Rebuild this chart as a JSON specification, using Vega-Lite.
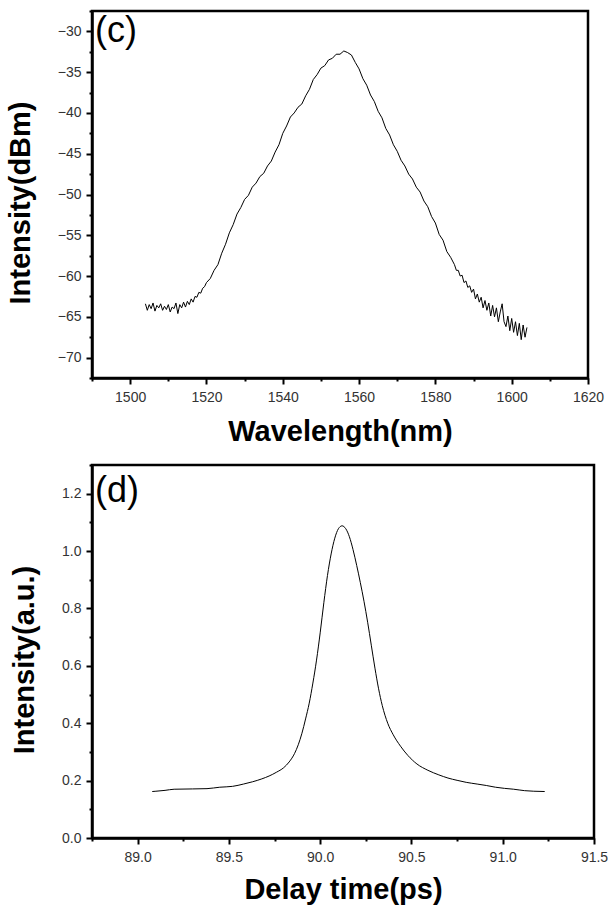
{
  "$schema": "https://vega.github.io/schema/vega-lite/v6.json",
  "background": "white",
  "padding": {"left": 5, "top": 2, "right": 5, "bottom": 2},
  "spacing": 8,
  "config": {
    "view": {"stroke": "black", "strokeWidth": 2.5},
    "axis": {
      "grid": false,
      "tickCount": 60,
      "domainColor": "black",
      "domainWidth": 2.5,
      "tickColor": "black",
      "tickWidth": 2,
      "labelFont": "Liberation Sans",
      "labelFontSize": 14,
      "labelColor": "#333333",
      "labelOverlap": false,
      "labelFlush": false,
      "titleFont": "Liberation Sans",
      "titleFontSize": 29,
      "titleFontWeight": "bold",
      "titleColor": "black"
    },
    "axisX": {"labelPadding": 6},
    "axisY": {"labelPadding": 5, "titlePadding": 22},
    "line": {"color": "black", "strokeWidth": 1}
  },
  "datasets": {
    "spectrum": [
      {"wavelength": 1504.0, "dbm": -63.4}, {"wavelength": 1504.5, "dbm": -64.2}, {"wavelength": 1505.0, "dbm": -63.5}, {"wavelength": 1505.5, "dbm": -64.0},
      {"wavelength": 1506.0, "dbm": -63.3}, {"wavelength": 1506.5, "dbm": -64.3}, {"wavelength": 1507.0, "dbm": -63.6}, {"wavelength": 1507.5, "dbm": -63.9},
      {"wavelength": 1508.0, "dbm": -63.4}, {"wavelength": 1508.5, "dbm": -64.2}, {"wavelength": 1509.0, "dbm": -63.7}, {"wavelength": 1509.5, "dbm": -64.1},
      {"wavelength": 1510.0, "dbm": -63.5}, {"wavelength": 1510.5, "dbm": -64.4}, {"wavelength": 1511.0, "dbm": -63.8}, {"wavelength": 1511.5, "dbm": -64.0},
      {"wavelength": 1512.0, "dbm": -63.3}, {"wavelength": 1512.5, "dbm": -64.6}, {"wavelength": 1513.0, "dbm": -63.5}, {"wavelength": 1513.5, "dbm": -63.9},
      {"wavelength": 1514.0, "dbm": -63.2}, {"wavelength": 1514.5, "dbm": -63.8}, {"wavelength": 1515.0, "dbm": -63.1}, {"wavelength": 1515.5, "dbm": -63.5},
      {"wavelength": 1516.0, "dbm": -62.8}, {"wavelength": 1516.5, "dbm": -63.2}, {"wavelength": 1517.0, "dbm": -62.5}, {"wavelength": 1517.5, "dbm": -62.6},
      {"wavelength": 1518.0, "dbm": -62.0}, {"wavelength": 1518.5, "dbm": -62.1}, {"wavelength": 1519.0, "dbm": -61.5}, {"wavelength": 1519.5, "dbm": -61.3},
      {"wavelength": 1520, "dbm": -60.8}, {"wavelength": 1521, "dbm": -60.3}, {"wavelength": 1522, "dbm": -59.3}, {"wavelength": 1523, "dbm": -58.6},
      {"wavelength": 1524, "dbm": -57.2}, {"wavelength": 1525, "dbm": -56.1}, {"wavelength": 1526, "dbm": -54.7}, {"wavelength": 1527, "dbm": -53.7},
      {"wavelength": 1528, "dbm": -52.4}, {"wavelength": 1529, "dbm": -51.6}, {"wavelength": 1530, "dbm": -50.6}, {"wavelength": 1531, "dbm": -50.1},
      {"wavelength": 1532, "dbm": -49.1}, {"wavelength": 1533, "dbm": -48.6}, {"wavelength": 1534, "dbm": -47.8}, {"wavelength": 1535, "dbm": -47.4},
      {"wavelength": 1536, "dbm": -46.5}, {"wavelength": 1537, "dbm": -45.9}, {"wavelength": 1538, "dbm": -44.8}, {"wavelength": 1539, "dbm": -43.9},
      {"wavelength": 1540, "dbm": -42.5}, {"wavelength": 1541, "dbm": -41.6}, {"wavelength": 1542, "dbm": -40.5}, {"wavelength": 1543, "dbm": -40.0},
      {"wavelength": 1544, "dbm": -39.3}, {"wavelength": 1545, "dbm": -38.9}, {"wavelength": 1546, "dbm": -37.9}, {"wavelength": 1547, "dbm": -37.1},
      {"wavelength": 1548, "dbm": -35.9}, {"wavelength": 1549, "dbm": -35.3}, {"wavelength": 1550, "dbm": -34.5}, {"wavelength": 1551, "dbm": -34.2},
      {"wavelength": 1552, "dbm": -33.5}, {"wavelength": 1553, "dbm": -33.3}, {"wavelength": 1554, "dbm": -32.8}, {"wavelength": 1555, "dbm": -32.8},
      {"wavelength": 1556, "dbm": -32.4}, {"wavelength": 1557, "dbm": -32.6}, {"wavelength": 1558, "dbm": -32.9}, {"wavelength": 1559, "dbm": -33.8},
      {"wavelength": 1560, "dbm": -34.6}, {"wavelength": 1561, "dbm": -35.8}, {"wavelength": 1562, "dbm": -36.6}, {"wavelength": 1563, "dbm": -37.8},
      {"wavelength": 1564, "dbm": -38.6}, {"wavelength": 1565, "dbm": -39.8}, {"wavelength": 1566, "dbm": -40.6}, {"wavelength": 1567, "dbm": -41.9},
      {"wavelength": 1568, "dbm": -42.7}, {"wavelength": 1569, "dbm": -43.9}, {"wavelength": 1570, "dbm": -44.7}, {"wavelength": 1571, "dbm": -45.8},
      {"wavelength": 1572, "dbm": -46.5}, {"wavelength": 1573, "dbm": -47.5}, {"wavelength": 1574, "dbm": -48.1}, {"wavelength": 1575, "dbm": -49.1},
      {"wavelength": 1576, "dbm": -49.7}, {"wavelength": 1577, "dbm": -50.8}, {"wavelength": 1578, "dbm": -51.5}, {"wavelength": 1579, "dbm": -52.7},
      {"wavelength": 1580, "dbm": -53.5}, {"wavelength": 1581, "dbm": -54.9}, {"wavelength": 1582, "dbm": -55.6}, {"wavelength": 1583, "dbm": -57.0},
      {"wavelength": 1584, "dbm": -57.7},
      {"wavelength": 1585.0, "dbm": -58.6}, {"wavelength": 1585.5, "dbm": -59.3}, {"wavelength": 1586.0, "dbm": -59.3}, {"wavelength": 1586.5, "dbm": -60.0},
      {"wavelength": 1587.0, "dbm": -59.9}, {"wavelength": 1587.5, "dbm": -60.8}, {"wavelength": 1588.0, "dbm": -60.6}, {"wavelength": 1588.5, "dbm": -61.4},
      {"wavelength": 1589.0, "dbm": -61.2}, {"wavelength": 1589.5, "dbm": -62.0}, {"wavelength": 1590.0, "dbm": -61.6}, {"wavelength": 1590.5, "dbm": -62.8},
      {"wavelength": 1591.0, "dbm": -62.2}, {"wavelength": 1591.5, "dbm": -63.2}, {"wavelength": 1592.0, "dbm": -62.6}, {"wavelength": 1592.5, "dbm": -63.9},
      {"wavelength": 1593.0, "dbm": -63.0}, {"wavelength": 1593.5, "dbm": -64.2}, {"wavelength": 1594.0, "dbm": -63.3}, {"wavelength": 1594.5, "dbm": -64.9},
      {"wavelength": 1595.0, "dbm": -63.6}, {"wavelength": 1595.5, "dbm": -65.0}, {"wavelength": 1596.0, "dbm": -63.9}, {"wavelength": 1596.5, "dbm": -65.6},
      {"wavelength": 1597.0, "dbm": -64.4}, {"wavelength": 1597.5, "dbm": -63.4}, {"wavelength": 1598.0, "dbm": -65.6}, {"wavelength": 1598.5, "dbm": -66.2},
      {"wavelength": 1599.0, "dbm": -64.9}, {"wavelength": 1599.5, "dbm": -66.7}, {"wavelength": 1600.0, "dbm": -65.2}, {"wavelength": 1600.5, "dbm": -66.9},
      {"wavelength": 1601.0, "dbm": -65.6}, {"wavelength": 1601.5, "dbm": -67.3}, {"wavelength": 1602.0, "dbm": -65.8}, {"wavelength": 1602.5, "dbm": -67.8},
      {"wavelength": 1603.0, "dbm": -66.0}, {"wavelength": 1603.5, "dbm": -67.5}, {"wavelength": 1604.0, "dbm": -66.3}
    ],
    "autocorrelation": [
      {"delay": 89.08, "intensity": 0.162}, {"delay": 89.10, "intensity": 0.163}, {"delay": 89.15, "intensity": 0.166}, {"delay": 89.20, "intensity": 0.170},
      {"delay": 89.30, "intensity": 0.171}, {"delay": 89.38, "intensity": 0.172}, {"delay": 89.45, "intensity": 0.177}, {"delay": 89.52, "intensity": 0.180},
      {"delay": 89.58, "intensity": 0.188}, {"delay": 89.63, "intensity": 0.196}, {"delay": 89.68, "intensity": 0.206}, {"delay": 89.72, "intensity": 0.216},
      {"delay": 89.76, "intensity": 0.229}, {"delay": 89.80, "intensity": 0.245}, {"delay": 89.83, "intensity": 0.265}, {"delay": 89.86, "intensity": 0.295},
      {"delay": 89.88, "intensity": 0.325}, {"delay": 89.90, "intensity": 0.365}, {"delay": 89.92, "intensity": 0.415}, {"delay": 89.94, "intensity": 0.470},
      {"delay": 89.96, "intensity": 0.540}, {"delay": 89.98, "intensity": 0.620}, {"delay": 90.00, "intensity": 0.715}, {"delay": 90.02, "intensity": 0.820},
      {"delay": 90.04, "intensity": 0.915}, {"delay": 90.06, "intensity": 0.990}, {"delay": 90.08, "intensity": 1.045}, {"delay": 90.10, "intensity": 1.078},
      {"delay": 90.12, "intensity": 1.088}, {"delay": 90.14, "intensity": 1.078}, {"delay": 90.16, "intensity": 1.050}, {"delay": 90.18, "intensity": 1.005},
      {"delay": 90.20, "intensity": 0.950}, {"delay": 90.22, "intensity": 0.890}, {"delay": 90.24, "intensity": 0.825}, {"delay": 90.26, "intensity": 0.752},
      {"delay": 90.28, "intensity": 0.672}, {"delay": 90.30, "intensity": 0.592}, {"delay": 90.32, "intensity": 0.520}, {"delay": 90.34, "intensity": 0.462},
      {"delay": 90.37, "intensity": 0.400}, {"delay": 90.40, "intensity": 0.360}, {"delay": 90.44, "intensity": 0.320}, {"delay": 90.48, "intensity": 0.288},
      {"delay": 90.53, "intensity": 0.258}, {"delay": 90.59, "intensity": 0.236}, {"delay": 90.65, "intensity": 0.220}, {"delay": 90.70, "intensity": 0.209},
      {"delay": 90.75, "intensity": 0.201}, {"delay": 90.80, "intensity": 0.194}, {"delay": 90.86, "intensity": 0.188}, {"delay": 90.91, "intensity": 0.183},
      {"delay": 90.96, "intensity": 0.177}, {"delay": 91.01, "intensity": 0.173}, {"delay": 91.06, "intensity": 0.170}, {"delay": 91.12, "intensity": 0.165},
      {"delay": 91.17, "intensity": 0.163}, {"delay": 91.23, "intensity": 0.162}
    ]
  },
  "vconcat": [
    {
      "width": 496,
      "height": 367,
      "layer": [
        {
          "data": {"name": "spectrum"},
          "mark": {"type": "line", "interpolate": "linear"},
          "encoding": {
            "x": {
              "field": "wavelength", "type": "quantitative",
              "scale": {"domain": [1490, 1620], "nice": false, "zero": false},
              "axis": {
                "title": "Wavelength(nm)",
                "values": [1490, 1500, 1510, 1520, 1530, 1540, 1550, 1560, 1570, 1580, 1590, 1600, 1610, 1620],
                "format": ".0f",
                "labelExpr": "round((datum.value - 1490) / 10) % 2 === 1 ? datum.label : ''",
                "tickSize": {"condition": {"test": "round((datum.value - 1490) / 10) % 2 === 1", "value": 6}, "value": 3},
                "titlePadding": 13
              }
            },
            "y": {
              "field": "dbm", "type": "quantitative",
              "scale": {"domain": [-72.5, -27.5], "nice": false, "zero": false},
              "axis": {
                "title": "Intensity(dBm)",
                "titleY": 191.5,
                "values": [-72.5, -70, -67.5, -65, -62.5, -60, -57.5, -55, -52.5, -50, -47.5, -45, -42.5, -40, -37.5, -35, -32.5, -30, -27.5],
                "format": ".0f",
                "labelExpr": "round((datum.value + 72.5) / 2.5) % 2 === 1 ? datum.label : ''",
                "tickSize": {"condition": {"test": "round((datum.value + 72.5) / 2.5) % 2 === 1", "value": 6}, "value": 3}
              }
            }
          }
        },
        {
          "data": {"values": [{"panel": "(c)"}]},
          "mark": {"type": "text", "align": "left", "baseline": "top", "font": "Liberation Sans", "fontSize": 36, "dx": 3, "dy": 3, "color": "black"},
          "encoding": {
            "x": {"datum": 1490},
            "y": {"datum": -27.5},
            "text": {"field": "panel"}
          }
        }
      ]
    },
    {
      "width": 502,
      "height": 373,
      "layer": [
        {
          "data": {"name": "autocorrelation"},
          "mark": {"type": "line", "interpolate": "monotone"},
          "encoding": {
            "x": {
              "field": "delay", "type": "quantitative",
              "scale": {"domain": [88.75, 91.5], "nice": false, "zero": false},
              "axis": {
                "title": "Delay time(ps)",
                "values": [88.75, 89, 89.25, 89.5, 89.75, 90, 90.25, 90.5, 90.75, 91, 91.25, 91.5],
                "format": ".1f",
                "labelExpr": "round(datum.value * 4) % 2 === 0 ? datum.label : ''",
                "tickSize": {"condition": {"test": "round(datum.value * 4) % 2 === 0", "value": 6}, "value": 3},
                "titlePadding": 11
              }
            },
            "y": {
              "field": "intensity", "type": "quantitative",
              "scale": {"domain": [0, 1.3], "nice": false, "zero": false},
              "axis": {
                "title": "Intensity(a.u.)",
                "titleY": 194.5,
                "values": [0, 0.1, 0.2, 0.3, 0.4, 0.5, 0.6, 0.7, 0.8, 0.9, 1.0, 1.1, 1.2, 1.3],
                "format": ".1f",
                "labelExpr": "round(datum.value * 10) % 2 === 0 ? datum.label : ''",
                "tickSize": {"condition": {"test": "round(datum.value * 10) % 2 === 0", "value": 6}, "value": 3}
              }
            }
          }
        },
        {
          "data": {"values": [{"panel": "(d)"}]},
          "mark": {"type": "text", "align": "left", "baseline": "top", "font": "Liberation Sans", "fontSize": 36, "dx": 3, "dy": 9, "color": "black"},
          "encoding": {
            "x": {"datum": 88.75},
            "y": {"datum": 1.3},
            "text": {"field": "panel"}
          }
        }
      ]
    }
  ]
}
